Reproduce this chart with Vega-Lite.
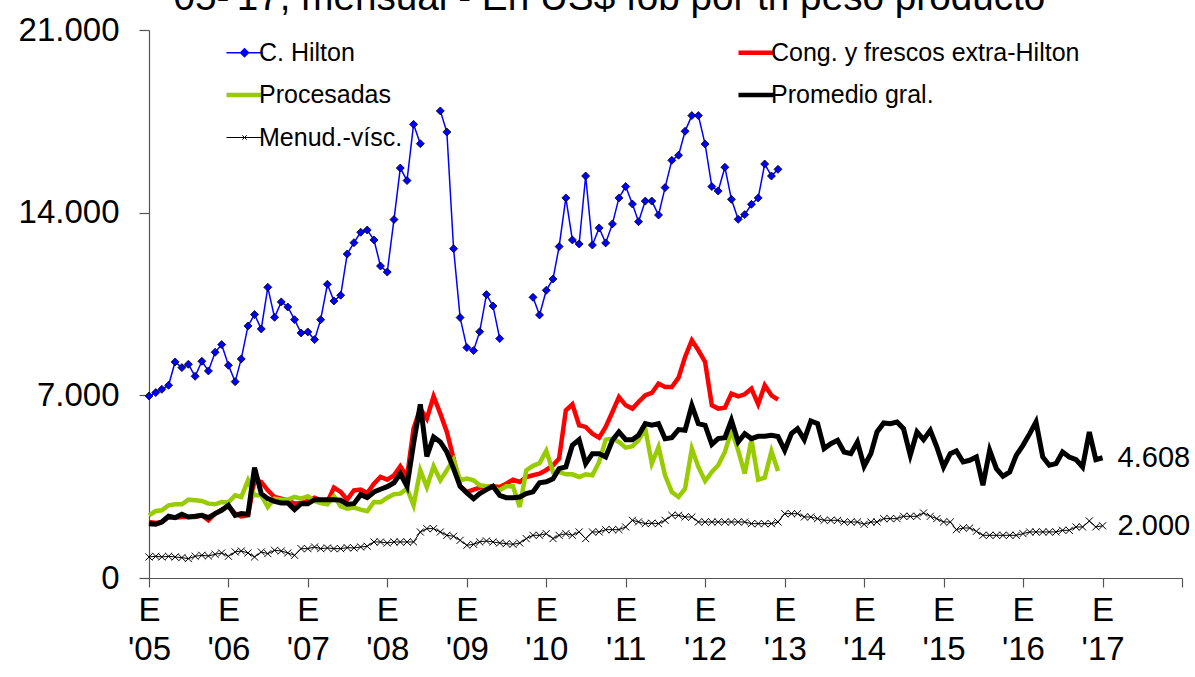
{
  "$schema": "https://vega.github.io/schema/vega-lite/v6.json",
  "width": 1033,
  "height": 548,
  "autosize": {"type": "none"},
  "padding": {"left": 149, "top": 30, "right": 13, "bottom": 99},
  "background": "white",
  "title": {"text": "'05-'17, mensual - En US$ fob por tn peso producto", "anchor": "start", "frame": "group", "dx": 17, "dy": 47, "fontSize": 38.7, "font": "Liberation Sans", "fontWeight": "normal", "color": "#000", "offset": 12, "baseline": "alphabetic"},
  "data": {"values": [
    {"fecha":"2005-01-01","hilton":6975,"cong":2147,"proc":2402,"prom":2083,"menud":806},
    {"fecha":"2005-02-01","hilton":7105,"cong":2110,"proc":2568,"prom":2057,"menud":832},
    {"fecha":"2005-03-01","hilton":7230,"cong":2147,"proc":2594,"prom":2147,"menud":806},
    {"fecha":"2005-04-01","hilton":7385,"cong":2339,"proc":2786,"prom":2364,"menud":832},
    {"fecha":"2005-05-01","hilton":8280,"cong":2312,"proc":2825,"prom":2312,"menud":806},
    {"fecha":"2005-06-01","hilton":8063,"cong":2339,"proc":2825,"prom":2440,"menud":780},
    {"fecha":"2005-07-01","hilton":8190,"cong":2339,"proc":3003,"prom":2339,"menud":742},
    {"fecha":"2005-08-01","hilton":7730,"cong":2339,"proc":2978,"prom":2364,"menud":832},
    {"fecha":"2005-09-01","hilton":8305,"cong":2403,"proc":2952,"prom":2403,"menud":870},
    {"fecha":"2005-10-01","hilton":7935,"cong":2211,"proc":2850,"prom":2313,"menud":844},
    {"fecha":"2005-11-01","hilton":8650,"cong":2467,"proc":2825,"prom":2467,"menud":908},
    {"fecha":"2005-12-01","hilton":8945,"cong":2620,"proc":2914,"prom":2594,"menud":959},
    {"fecha":"2006-01-01","hilton":8150,"cong":2747,"proc":2900,"prom":2786,"menud":832},
    {"fecha":"2006-02-01","hilton":7525,"cong":2467,"proc":3169,"prom":2403,"menud":998},
    {"fecha":"2006-03-01","hilton":8395,"cong":2364,"proc":3105,"prom":2467,"menud":1036},
    {"fecha":"2006-04-01","hilton":9660,"cong":2403,"proc":3744,"prom":2440,"menud":959},
    {"fecha":"2006-05-01","hilton":10095,"cong":3744,"proc":3169,"prom":4229,"menud":806},
    {"fecha":"2006-06-01","hilton":9545,"cong":3680,"proc":3169,"prom":3233,"menud":998},
    {"fecha":"2006-07-01","hilton":11140,"cong":3361,"proc":2722,"prom":3041,"menud":934},
    {"fecha":"2006-08-01","hilton":9990,"cong":3105,"proc":3041,"prom":2939,"menud":1061},
    {"fecha":"2006-09-01","hilton":10580,"cong":3041,"proc":3003,"prom":2875,"menud":1036},
    {"fecha":"2006-10-01","hilton":10385,"cong":2978,"proc":3003,"prom":2875,"menud":959},
    {"fecha":"2006-11-01","hilton":9900,"cong":2850,"proc":3105,"prom":2620,"menud":870},
    {"fecha":"2006-12-01","hilton":9390,"cong":2875,"proc":3041,"prom":2850,"menud":1125},
    {"fecha":"2007-01-01","hilton":9430,"cong":2952,"proc":3131,"prom":2850,"menud":1125},
    {"fecha":"2007-02-01","hilton":9135,"cong":3080,"proc":2952,"prom":3003,"menud":1189},
    {"fecha":"2007-03-01","hilton":9900,"cong":2978,"proc":2875,"prom":3003,"menud":1125},
    {"fecha":"2007-04-01","hilton":11255,"cong":2914,"proc":2825,"prom":3003,"menud":1151},
    {"fecha":"2007-05-01","hilton":10615,"cong":3463,"proc":3131,"prom":3003,"menud":1125},
    {"fecha":"2007-06-01","hilton":10835,"cong":3297,"proc":2747,"prom":2978,"menud":1125},
    {"fecha":"2007-07-01","hilton":12415,"cong":3003,"proc":2658,"prom":2825,"menud":1164},
    {"fecha":"2007-08-01","hilton":12850,"cong":3361,"proc":2700,"prom":2850,"menud":1151},
    {"fecha":"2007-09-01","hilton":13250,"cong":3386,"proc":2620,"prom":3194,"menud":1189},
    {"fecha":"2007-10-01","hilton":13335,"cong":3258,"proc":2556,"prom":3080,"menud":1215},
    {"fecha":"2007-11-01","hilton":12955,"cong":3616,"proc":2914,"prom":3297,"menud":1381},
    {"fecha":"2007-12-01","hilton":11955,"cong":3872,"proc":2900,"prom":3400,"menud":1381},
    {"fecha":"2008-01-01","hilton":11725,"cong":3770,"proc":3080,"prom":3500,"menud":1342},
    {"fecha":"2008-02-01","hilton":13735,"cong":3936,"proc":3208,"prom":3650,"menud":1381},
    {"fecha":"2008-03-01","hilton":15710,"cong":4281,"proc":3233,"prom":4000,"menud":1381},
    {"fecha":"2008-04-01","hilton":15230,"cong":3872,"proc":3425,"prom":3514,"menud":1381},
    {"fecha":"2008-05-01","hilton":17385,"cong":5725,"proc":2786,"prom":5148,"menud":1381},
    {"fecha":"2008-06-01","hilton":16645,"cong":6491,"proc":4127,"prom":6656,"menud":1764},
    {"fecha":"2008-07-01","hilton":null,"cong":6108,"proc":3488,"prom":4663,"menud":1892},
    {"fecha":"2008-08-01","hilton":null,"cong":6963,"proc":4281,"prom":5404,"menud":1892},
    {"fecha":"2008-09-01","hilton":17900,"cong":6299,"proc":3744,"prom":5212,"menud":1764},
    {"fecha":"2008-10-01","hilton":17090,"cong":5597,"proc":4127,"prom":4829,"menud":1636},
    {"fecha":"2008-11-01","hilton":12620,"cong":4575,"proc":4536,"prom":4191,"menud":1600},
    {"fecha":"2008-12-01","hilton":9980,"cong":3514,"proc":3744,"prom":3514,"menud":1445},
    {"fecha":"2009-01-01","hilton":8830,"cong":3297,"proc":3808,"prom":3258,"menud":1253},
    {"fecha":"2009-02-01","hilton":8715,"cong":3386,"proc":3744,"prom":3041,"menud":1291},
    {"fecha":"2009-03-01","hilton":9440,"cong":3463,"proc":3552,"prom":3233,"menud":1381},
    {"fecha":"2009-04-01","hilton":10860,"cong":3488,"proc":3514,"prom":3386,"menud":1420},
    {"fecha":"2009-05-01","hilton":10425,"cong":3514,"proc":3463,"prom":3514,"menud":1381},
    {"fecha":"2009-06-01","hilton":9175,"cong":3488,"proc":3361,"prom":3169,"menud":1342},
    {"fecha":"2009-07-01","hilton":null,"cong":3616,"proc":3514,"prom":3080,"menud":1317},
    {"fecha":"2009-08-01","hilton":null,"cong":3770,"proc":3514,"prom":3080,"menud":1291},
    {"fecha":"2009-09-01","hilton":null,"cong":3680,"proc":2722,"prom":3105,"menud":1342},
    {"fecha":"2009-10-01","hilton":null,"cong":3872,"proc":4127,"prom":3233,"menud":1509},
    {"fecha":"2009-11-01","hilton":10755,"cong":3936,"proc":4300,"prom":3300,"menud":1636},
    {"fecha":"2009-12-01","hilton":10080,"cong":4000,"proc":4400,"prom":3650,"menud":1636},
    {"fecha":"2010-01-01","hilton":11025,"cong":4140,"proc":4880,"prom":3690,"menud":1700},
    {"fecha":"2010-02-01","hilton":11460,"cong":4319,"proc":4063,"prom":3800,"menud":1509},
    {"fecha":"2010-03-01","hilton":12700,"cong":4575,"proc":4063,"prom":4191,"menud":1636},
    {"fecha":"2010-04-01","hilton":14565,"cong":6427,"proc":3974,"prom":4255,"menud":1700},
    {"fecha":"2010-05-01","hilton":12955,"cong":6657,"proc":3974,"prom":5085,"menud":1636},
    {"fecha":"2010-06-01","hilton":12800,"cong":5853,"proc":3872,"prom":5302,"menud":1764},
    {"fecha":"2010-07-01","hilton":15405,"cong":5789,"proc":3974,"prom":4383,"menud":1509},
    {"fecha":"2010-08-01","hilton":12760,"cong":5534,"proc":3936,"prom":4766,"menud":1764},
    {"fecha":"2010-09-01","hilton":13415,"cong":5381,"proc":4447,"prom":4766,"menud":1764},
    {"fecha":"2010-10-01","hilton":12840,"cong":5789,"proc":5302,"prom":4638,"menud":1853},
    {"fecha":"2010-11-01","hilton":13570,"cong":6363,"proc":5341,"prom":5277,"menud":1853},
    {"fecha":"2010-12-01","hilton":14565,"cong":6938,"proc":5213,"prom":5596,"menud":1853},
    {"fecha":"2011-01-01","hilton":15000,"cong":6618,"proc":4995,"prom":5302,"menud":1955},
    {"fecha":"2011-02-01","hilton":14330,"cong":6491,"proc":5047,"prom":5302,"menud":2210},
    {"fecha":"2011-03-01","hilton":13655,"cong":6746,"proc":5277,"prom":5468,"menud":2150},
    {"fecha":"2011-04-01","hilton":14445,"cong":7002,"proc":5724,"prom":5915,"menud":2083},
    {"fecha":"2011-05-01","hilton":14445,"cong":7091,"proc":4383,"prom":5852,"menud":2100},
    {"fecha":"2011-06-01","hilton":13910,"cong":7449,"proc":5021,"prom":5915,"menud":2083},
    {"fecha":"2011-07-01","hilton":14960,"cong":7321,"proc":3936,"prom":5341,"menud":2210},
    {"fecha":"2011-08-01","hilton":16005,"cong":7321,"proc":3297,"prom":5379,"menud":2402},
    {"fecha":"2011-09-01","hilton":16200,"cong":7679,"proc":3104,"prom":5686,"menud":2402},
    {"fecha":"2011-10-01","hilton":17120,"cong":8471,"proc":3425,"prom":5660,"menud":2338},
    {"fecha":"2011-11-01","hilton":17720,"cong":9110,"proc":4958,"prom":6618,"menud":2338},
    {"fecha":"2011-12-01","hilton":17720,"cong":8726,"proc":4255,"prom":5915,"menud":2147},
    {"fecha":"2012-01-01","hilton":16630,"cong":8279,"proc":3718,"prom":5852,"menud":2147},
    {"fecha":"2012-02-01","hilton":15000,"cong":6618,"proc":4063,"prom":5118,"menud":2147},
    {"fecha":"2012-03-01","hilton":14830,"cong":6491,"proc":4319,"prom":5341,"menud":2147},
    {"fecha":"2012-04-01","hilton":15740,"cong":6529,"proc":4830,"prom":5379,"menud":2147},
    {"fecha":"2012-05-01","hilton":14510,"cong":7066,"proc":5660,"prom":6044,"menud":2147},
    {"fecha":"2012-06-01","hilton":13745,"cong":6963,"proc":4893,"prom":5213,"menud":2147},
    {"fecha":"2012-07-01","hilton":13925,"cong":7040,"proc":3999,"prom":5532,"menud":2147},
    {"fecha":"2012-08-01","hilton":14320,"cong":7257,"proc":5302,"prom":5341,"menud":2083},
    {"fecha":"2012-09-01","hilton":14565,"cong":6657,"proc":3770,"prom":5430,"menud":2083},
    {"fecha":"2012-10-01","hilton":15865,"cong":7385,"proc":3846,"prom":5430,"menud":2083},
    {"fecha":"2012-11-01","hilton":15405,"cong":7002,"proc":4855,"prom":5468,"menud":2083},
    {"fecha":"2012-12-01","hilton":15660,"cong":6836,"proc":4101,"prom":5420,"menud":2147},
    {"fecha":"2013-01-01","prom":4894,"menud":2466},
    {"fecha":"2013-02-01","prom":5532,"menud":2466},
    {"fecha":"2013-03-01","prom":5724,"menud":2466},
    {"fecha":"2013-04-01","prom":5303,"menud":2339},
    {"fecha":"2013-05-01","prom":6018,"menud":2339},
    {"fecha":"2013-06-01","prom":5916,"menud":2275},
    {"fecha":"2013-07-01","prom":4958,"menud":2211},
    {"fecha":"2013-08-01","prom":5149,"menud":2211},
    {"fecha":"2013-09-01","prom":5277,"menud":2211},
    {"fecha":"2013-10-01","prom":4830,"menud":2147},
    {"fecha":"2013-11-01","prom":4766,"menud":2147},
    {"fecha":"2013-12-01","prom":5213,"menud":2147},
    {"fecha":"2014-01-01","prom":4281,"menud":2058},
    {"fecha":"2014-02-01","prom":4766,"menud":2147},
    {"fecha":"2014-03-01","prom":5596,"menud":2147},
    {"fecha":"2014-04-01","prom":5941,"menud":2275},
    {"fecha":"2014-05-01","prom":5916,"menud":2275},
    {"fecha":"2014-06-01","prom":5980,"menud":2275},
    {"fecha":"2014-07-01","prom":5724,"menud":2364},
    {"fecha":"2014-08-01","prom":4702,"menud":2364},
    {"fecha":"2014-09-01","prom":5596,"menud":2364},
    {"fecha":"2014-10-01","prom":5303,"menud":2492},
    {"fecha":"2014-11-01","prom":5660,"menud":2364},
    {"fecha":"2014-12-01","prom":5021,"menud":2275},
    {"fecha":"2015-01-01","prom":4255,"menud":2147},
    {"fecha":"2015-02-01","prom":4766,"menud":2147},
    {"fecha":"2015-03-01","prom":4868,"menud":1853},
    {"fecha":"2015-04-01","prom":4447,"menud":1917},
    {"fecha":"2015-05-01","prom":4511,"menud":1917},
    {"fecha":"2015-06-01","prom":4638,"menud":1789},
    {"fecha":"2015-07-01","prom":3552,"menud":1636},
    {"fecha":"2015-08-01","prom":4894,"menud":1636},
    {"fecha":"2015-09-01","prom":4191,"menud":1636},
    {"fecha":"2015-10-01","prom":3897,"menud":1636},
    {"fecha":"2015-11-01","prom":4063,"menud":1636},
    {"fecha":"2015-12-01","prom":4702,"menud":1636},
    {"fecha":"2016-01-01","prom":5085,"menud":1700},
    {"fecha":"2016-02-01","prom":5532,"menud":1764},
    {"fecha":"2016-03-01","prom":5980,"menud":1764},
    {"fecha":"2016-04-01","prom":4638,"menud":1764},
    {"fecha":"2016-05-01","prom":4319,"menud":1764},
    {"fecha":"2016-06-01","prom":4383,"menud":1764},
    {"fecha":"2016-07-01","prom":4830,"menud":1828},
    {"fecha":"2016-08-01","prom":4638,"menud":1828},
    {"fecha":"2016-09-01","prom":4536,"menud":1956},
    {"fecha":"2016-10-01","prom":4255,"menud":1956},
    {"fecha":"2016-11-01","prom":5596,"menud":2186},
    {"fecha":"2016-12-01","prom":4536,"menud":1956},
    {"fecha":"2017-01-01","prom":4608,"menud":2000}
  ]},
  "transform": [
    {"fold": ["hilton", "cong", "proc", "prom", "menud"], "as": ["serie", "valor"]}
  ],
  "encoding": {
    "x": {"field": "fecha", "type": "temporal",
      "scale": {"type": "utc", "domain": [{"year": 2005, "month": 1, "date": 1, "utc": true}, {"year": 2018, "month": 1, "date": 1, "utc": true}]},
      "axis": {"title": null, "grid": false,
        "values": [
          {"year": 2005, "month": 1, "date": 1, "utc": true}, {"year": 2006, "month": 1, "date": 1, "utc": true},
          {"year": 2007, "month": 1, "date": 1, "utc": true}, {"year": 2008, "month": 1, "date": 1, "utc": true},
          {"year": 2009, "month": 1, "date": 1, "utc": true}, {"year": 2010, "month": 1, "date": 1, "utc": true},
          {"year": 2011, "month": 1, "date": 1, "utc": true}, {"year": 2012, "month": 1, "date": 1, "utc": true},
          {"year": 2013, "month": 1, "date": 1, "utc": true}, {"year": 2014, "month": 1, "date": 1, "utc": true},
          {"year": 2015, "month": 1, "date": 1, "utc": true}, {"year": 2016, "month": 1, "date": 1, "utc": true},
          {"year": 2017, "month": 1, "date": 1, "utc": true}, {"year": 2018, "month": 1, "date": 1, "utc": true}
        ],
        "labelExpr": "utcyear(datum.value) >= 2018 ? '' : ['E', \"'\" + utcFormat(datum.value, '%y')]",
        "labelFont": "Liberation Sans", "labelFontSize": 33, "labelColor": "#000", "labelLineHeight": 39,
        "labelPadding": 7, "labelAngle": 0, "labelOverlap": false, "labelFlush": false,
        "tickSize": 9, "tickColor": "#555", "domainColor": "#555", "domainWidth": 1.2, "tickWidth": 1.2}
    },
    "y": {"field": "valor", "type": "quantitative",
      "scale": {"domain": [0, 21000], "nice": false, "zero": true},
      "axis": {"title": null, "grid": false, "values": [0, 7000, 14000, 21000], "format": ",d",
        "labelFont": "Liberation Sans", "labelFontSize": 33, "labelColor": "#000", "labelPadding": 20,
        "tickSize": 10, "tickColor": "#555", "domainColor": "#555", "domainWidth": 1.2, "tickWidth": 1.2}
    }
  },
  "layer": [
    {"transform": [{"filter": "datum.serie === 'cong'"}],
     "mark": {"type": "line", "strokeWidth": 4.5, "invalid": "break-paths-filter-domains"},
     "encoding": {"color": {"datum": "Cong. y frescos extra-Hilton",
       "scale": {"domain": ["C. Hilton", "Cong. y frescos extra-Hilton", "Procesadas", "Promedio gral.", "Menud.-vísc."],
                 "range": ["#0000FF", "#FF0000", "#99CC00", "#000000", "#000000"]},
       "legend": {"title": null, "orient": "none", "legendX": 83, "legendY": 10, "direction": "horizontal", "columns": 2, "columnPadding": 326, "rowPadding": 16.5,
         "padding": 0, "labelFont": "Liberation Sans", "labelFontSize": 25, "labelColor": "#000", "labelOffset": 2, "labelLimit": 500,
         "symbolSize": 1296, "symbolStrokeWidth": 4.5, "symbolType": "stroke",
         "encode": {"symbols": {"update": {
           "shape": {"signal": "datum.value === 'C. Hilton' ? 'M-1,0L1,0M0,-0.22L0.22,0L0,0.22L-0.22,0Z' : datum.value === 'Menud.-vísc.' ? 'M-1,0L1,0M-0.12,-0.12L0.12,0.12M-0.12,0.12L0.12,-0.12' : 'M-1,0L1,0'"},
           "strokeWidth": {"signal": "datum.value === 'C. Hilton' ? 1.5 : datum.value === 'Menud.-vísc.' ? 1 : 4.5"},
           "fill": {"signal": "datum.value === 'C. Hilton' ? '#0000FF' : 'transparent'"},
           "opacity": {"value": 1}
         }}}
       }}}
    },
    {"transform": [{"filter": "datum.serie === 'proc'"}],
     "mark": {"type": "line", "strokeWidth": 4.5, "invalid": "break-paths-filter-domains"},
     "encoding": {"color": {"datum": "Procesadas"}}
    },
    {"transform": [{"filter": "datum.serie === 'prom'"}],
     "mark": {"type": "line", "strokeWidth": 5, "invalid": "break-paths-filter-domains"},
     "encoding": {"color": {"datum": "Promedio gral."}}
    },
    {"transform": [{"filter": "datum.serie === 'menud'"}],
     "mark": {"type": "line", "strokeWidth": 1, "invalid": "break-paths-filter-domains"},
     "encoding": {"color": {"datum": "Menud.-vísc."}}
    },
    {"transform": [{"filter": "datum.serie === 'menud'"}],
     "mark": {"type": "point", "shape": "M-1,-1L1,1M-1,1L1,-1", "size": 50, "filled": false, "stroke": "#000", "strokeWidth": 1, "opacity": 1},
     "encoding": {}
    },
    {"transform": [{"filter": "datum.serie === 'hilton'"}],
     "mark": {"type": "line", "strokeWidth": 1.5, "invalid": "break-paths-filter-domains"},
     "encoding": {"color": {"datum": "C. Hilton"}}
    },
    {"transform": [{"filter": "datum.serie === 'hilton'"}],
     "mark": {"type": "point", "shape": "diamond", "size": 64, "filled": true, "fill": "#0000FF", "stroke": "#000", "strokeWidth": 0.8, "opacity": 1},
     "encoding": {}
    },
    {"transform": [{"filter": "(datum.serie === 'prom' || datum.serie === 'menud') && utcyear(datum.fecha) === 2017"}],
     "mark": {"type": "text", "align": "left", "baseline": "middle", "dx": 15, "fontSize": 29, "font": "Liberation Sans", "color": "#000"},
     "encoding": {"text": {"field": "valor", "type": "quantitative", "format": ",d"}}
    }
  ],
  "config": {
    "view": {"stroke": null},
    "font": "Liberation Sans",
    "locale": {"number": {"decimal": ",", "thousands": ".", "grouping": [3], "currency": ["$", ""]}}
  }
}
